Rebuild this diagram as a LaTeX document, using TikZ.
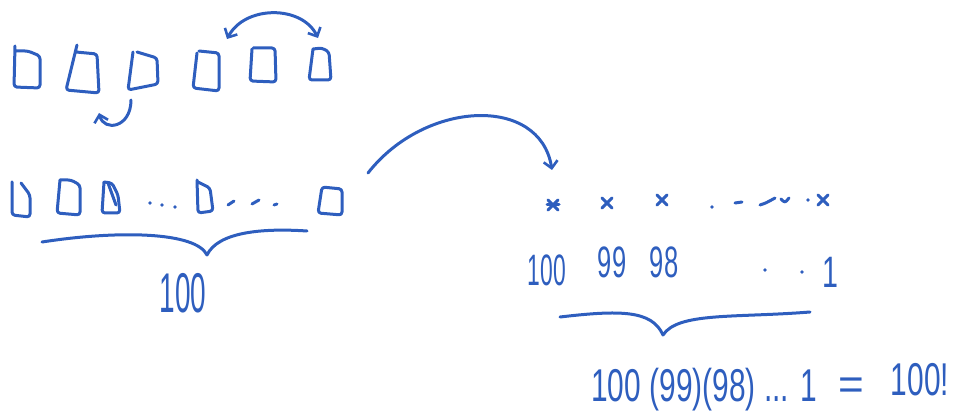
\documentclass[tikz,border=0pt]{standalone}
\usepackage{fontspec}
\usepackage{graphicx}
\setmainfont{Liberation Sans}
\usetikzlibrary{arrows.meta}
\definecolor{ink}{RGB}{46,94,190}
\tikzset{
  pen/.style={draw=ink, line width=3pt, line cap=round, line join=round, rounded corners=3pt},
  barb/.style={-{Straight Barb[length=7pt,width=14pt,line width=2.6pt]}},
  dbarb/.style={{Straight Barb[length=7pt,width=14pt,line width=2.6pt]}-{Straight Barb[length=7pt,width=14pt,line width=2.6pt]}},
  dot/.style={fill=ink, draw=none},
  hand/.style={text=ink, inner sep=0pt, anchor=center},
}
\newcommand{\narrow}[2]{\scalebox{#1}[1]{#2}}
\begin{document}
\begin{tikzpicture}[x=1pt, y=-1pt]
\useasboundingbox (0,0) rectangle (956,414);

% ---- top row: six cells ----
\draw[pen] (15,46) -- (14,87) -- (40,88) -- (40,56) -- (28,51) -- (16,51);
\draw[pen] (77,45) -- (66,90) -- (99,93) -- (97,54) -- (76,52);
\draw[pen] (133,52) -- (128,90) -- (158,84) -- (157,58) -- (137,52);
\draw[pen] (197,53) -- (193,88) -- (219,91) -- (219,53) -- (199,51);
\draw[pen] (252,49) -- (250,81) -- (276,82) -- (275,48) -- (253,48);
\draw[pen] (313,49) -- (309,80) -- (331,80) -- (329,52) -- (322,48) -- (313,49);

% swap arrows on the top row
\coordinate (s1) at (131,100);
\coordinate (s2) at (99,113);
\draw[pen, rounded corners=0pt, barb] (s1) .. controls (131,128) and (104,132) .. (s2);
\coordinate (t1) at (227,39);
\coordinate (t2) at (318,38);
\draw[pen, rounded corners=0pt, dbarb] (t1) .. controls (245,5) and (302,5) .. (t2);

% ---- middle row: 100 cells ----
\draw[pen] (12,182) -- (12,215) -- (30,217) -- (30,195) -- (21,183);
\draw[pen] (60,180) -- (57,213) -- (80,215) -- (80,185) -- (71,180) -- (60,180);
\draw[pen] (104,182) -- (102,213) -- (120,213) -- (118,195) -- (112,183) -- (104,182);
\draw[pen] (108,183) -- (116,205);
\foreach \x/\y in {150/203, 162/205, 175/207}
  \fill[dot] (\x,\y) circle (1.8);
\draw[pen] (197,180) -- (198,213) -- (213,211) -- (210,188) -- (198,182);
\draw[pen] (228,205) -- (234,201);
\draw[pen] (252,204) -- (259,200);
\draw[pen] (274,205) -- (277,204);
\draw[pen] (322,187) -- (318,213) -- (342,215) -- (342,189) -- cycle;

% brace under the middle row
\coordinate (bl) at (42,242);
\coordinate (bt) at (207,255);
\coordinate (br) at (307,231);
\draw[pen, rounded corners=0pt] (bl) .. controls (120,230) and (196,232) .. (bt)
  .. controls (218,232) and (262,228) .. (br);
\node[hand] (hundred) at (183,293) {\fontsize{56}{56}\selectfont\narrow{0.5}{100}};

% ---- long arrow to the right ----
\coordinate (a1) at (368,173);
\coordinate (a2) at (552,170);
\draw[pen, rounded corners=0pt, barb] (a1) .. controls (425,100) and (540,95) .. (a2);

% ---- right row: choices per position ----
\foreach \x/\y in {553/205, 607/203, 662/200, 823/200}
  \draw[pen] (\x-5,\y-5) -- (\x+5,\y+5) (\x+5,\y-5) -- (\x-5,\y+5);
\draw[pen] (547,205) -- (559,205);
\fill[dot] (712,207) circle (1.8);
\fill[dot] (808,200) circle (1.8);
\draw[pen] (735,203) -- (742,202);
\draw[pen, rounded corners=0pt] (760,205) .. controls (766,203) .. (775,198);
\draw[pen, rounded corners=0pt] (781,199) .. controls (785,203) .. (789,198);

\node[hand] (c100) at (547,270) {\fontsize{44}{44}\selectfont\narrow{0.52}{100}};
\node[hand] (c99) at (612,262) {\fontsize{44}{44}\selectfont\narrow{0.58}{99}};
\node[hand] (c98) at (664,262) {\fontsize{44}{44}\selectfont\narrow{0.58}{98}};
\fill[dot] (765,270) circle (1.8);
\fill[dot] (802,272) circle (1.8);
\node[hand] (c1) at (830,272) {\fontsize{44}{44}\selectfont\narrow{0.65}{1}};

% brace under the right row
\coordinate (rl) at (560,317);
\coordinate (rt) at (663,335);
\coordinate (rr) at (810,312);
\draw[pen, rounded corners=0pt] (rl) .. controls (620,310) and (652,310) .. (rt)
  .. controls (678,312) and (735,318) .. (rr);

% ---- result ----
\node[hand] (prod) at (704,390) {\fontsize{46}{46}\selectfont\narrow{0.65}{100 (99)(98) ... 1}};
\node[hand] (eq) at (851,389) {\fontsize{44}{44}\selectfont =};
\node[hand] (fact) at (920,380) {\fontsize{46}{46}\selectfont\narrow{0.65}{100!}};
\end{tikzpicture}
\end{document}
